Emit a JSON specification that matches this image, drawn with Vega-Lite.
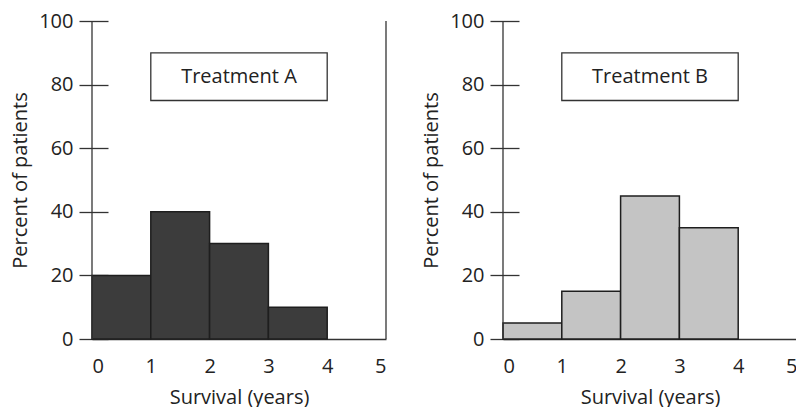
{
  "$schema": "https://vega.github.io/schema/vega-lite/v6.json",
  "padding": {"left": 10, "top": 11, "right": 0, "bottom": 0},
  "spacing": 34,
  "config": {
    "font": "Open Sans",
    "view": {"stroke": null}
  },
  "datasets": {
    "bars": [
      {"treatment": "A", "start": 0, "end": 1, "pct": 20},
      {"treatment": "A", "start": 1, "end": 2, "pct": 40},
      {"treatment": "A", "start": 2, "end": 3, "pct": 30},
      {"treatment": "A", "start": 3, "end": 4, "pct": 10},
      {"treatment": "B", "start": 0, "end": 1, "pct": 5},
      {"treatment": "B", "start": 1, "end": 2, "pct": 15},
      {"treatment": "B", "start": 2, "end": 3, "pct": 45},
      {"treatment": "B", "start": 3, "end": 4, "pct": 35}
    ],
    "labels": [
      {"treatment": "A", "label": "Treatment A"},
      {"treatment": "B", "label": "Treatment B"}
    ]
  },
  "hconcat": [
    {
      "width": 294,
      "height": 318,
      "layer": [
        {
          "data": {"name": "bars"},
          "transform": [{"filter": "datum.treatment === 'A'"}],
          "mark": {"type": "rect", "fill": "#3c3c3c", "stroke": "#1e1e1e", "strokeWidth": 1.5},
          "encoding": {
            "x": {"field": "start", "type": "quantitative", "scale": {"domain": [0, 5], "nice": false}, "title": "Survival (years)",
              "axis": {"format": "d", "values": [0, 1, 2, 3, 4, 5], "ticks": false, "grid": false, "domainColor": "#333", "domainWidth": 1.3, "labelPadding": 17, "labelFontSize": 20, "labelFont": "Open Sans", "labelColor": "#222", "titleFontSize": 20, "titleFont": "Open Sans", "titleFontWeight": "normal", "titleColor": "#222", "titlePadding": 11}},
            "x2": {"field": "end"},
            "y": {"field": "pct", "type": "quantitative", "scale": {"domain": [0, 100], "nice": false}, "title": "Percent of patients",
              "axis": {"values": [0, 20, 40, 60, 80, 100], "domain": false, "grid": false, "offset": -16, "tickSize": 29, "tickColor": "#333", "tickWidth": 1.3, "labelPadding": 6, "labelFontSize": 20, "labelFont": "Open Sans", "labelColor": "#222", "titleFontSize": 20, "titleFont": "Open Sans", "titleFontWeight": "normal", "titleColor": "#222", "titlePadding": 8}},
            "y2": {"datum": 0}
          }
        },
        {
          "data": {"values": [{}]},
          "mark": {"type": "rule", "color": "#333", "strokeWidth": 1.3},
          "encoding": {"x": {"datum": 0, "type": "quantitative"}, "y": {"datum": 0, "type": "quantitative"}, "y2": {"datum": 100}}
        },
        {
          "data": {"values": [{}]},
          "mark": {"type": "rule", "color": "#333", "strokeWidth": 1.3},
          "encoding": {"x": {"datum": 5, "type": "quantitative"}, "y": {"datum": 0, "type": "quantitative"}, "y2": {"datum": 100}}
        },
        {
          "data": {"name": "labels"},
          "transform": [{"filter": "datum.treatment === 'A'"}],
          "mark": {"type": "rect", "fill": "white", "stroke": "#333", "strokeWidth": 1.3},
          "encoding": {"x": {"datum": 1, "type": "quantitative"}, "x2": {"datum": 4}, "y": {"datum": 75, "type": "quantitative"}, "y2": {"datum": 90}}
        },
        {
          "data": {"name": "labels"},
          "transform": [{"filter": "datum.treatment === 'A'"}],
          "mark": {"type": "text", "fontSize": 20, "color": "#222", "font": "Open Sans"},
          "encoding": {"x": {"datum": 2.5, "type": "quantitative"}, "y": {"datum": 82.5, "type": "quantitative"}, "text": {"field": "label"}}
        }
      ]
    },
    {
      "width": 294,
      "height": 318,
      "layer": [
        {
          "data": {"name": "bars"},
          "transform": [{"filter": "datum.treatment === 'B'"}],
          "mark": {"type": "rect", "fill": "#c4c4c4", "stroke": "#1e1e1e", "strokeWidth": 1.5},
          "encoding": {
            "x": {"field": "start", "type": "quantitative", "scale": {"domain": [0, 5], "nice": false}, "title": "Survival (years)",
              "axis": {"format": "d", "values": [0, 1, 2, 3, 4, 5], "ticks": false, "grid": false, "domainColor": "#333", "domainWidth": 1.3, "labelPadding": 17, "labelFontSize": 20, "labelFont": "Open Sans", "labelColor": "#222", "titleFontSize": 20, "titleFont": "Open Sans", "titleFontWeight": "normal", "titleColor": "#222", "titlePadding": 11}},
            "x2": {"field": "end"},
            "y": {"field": "pct", "type": "quantitative", "scale": {"domain": [0, 100], "nice": false}, "title": "Percent of patients",
              "axis": {"values": [0, 20, 40, 60, 80, 100], "domain": false, "grid": false, "offset": -16, "tickSize": 29, "tickColor": "#333", "tickWidth": 1.3, "labelPadding": 6, "labelFontSize": 20, "labelFont": "Open Sans", "labelColor": "#222", "titleFontSize": 20, "titleFont": "Open Sans", "titleFontWeight": "normal", "titleColor": "#222", "titlePadding": 8}},
            "y2": {"datum": 0}
          }
        },
        {
          "data": {"values": [{}]},
          "mark": {"type": "rule", "color": "#333", "strokeWidth": 1.3},
          "encoding": {"x": {"datum": 0, "type": "quantitative"}, "y": {"datum": 0, "type": "quantitative"}, "y2": {"datum": 100}}
        },
        {
          "data": {"values": [{}]},
          "mark": {"type": "rule", "color": "#333", "strokeWidth": 1.3},
          "encoding": {"x": {"datum": 5, "type": "quantitative"}, "y": {"datum": 0, "type": "quantitative"}, "y2": {"datum": 100}}
        },
        {
          "data": {"name": "labels"},
          "transform": [{"filter": "datum.treatment === 'B'"}],
          "mark": {"type": "rect", "fill": "white", "stroke": "#333", "strokeWidth": 1.3},
          "encoding": {"x": {"datum": 1, "type": "quantitative"}, "x2": {"datum": 4}, "y": {"datum": 75, "type": "quantitative"}, "y2": {"datum": 90}}
        },
        {
          "data": {"name": "labels"},
          "transform": [{"filter": "datum.treatment === 'B'"}],
          "mark": {"type": "text", "fontSize": 20, "color": "#222", "font": "Open Sans"},
          "encoding": {"x": {"datum": 2.5, "type": "quantitative"}, "y": {"datum": 82.5, "type": "quantitative"}, "text": {"field": "label"}}
        }
      ]
    }
  ]
}
